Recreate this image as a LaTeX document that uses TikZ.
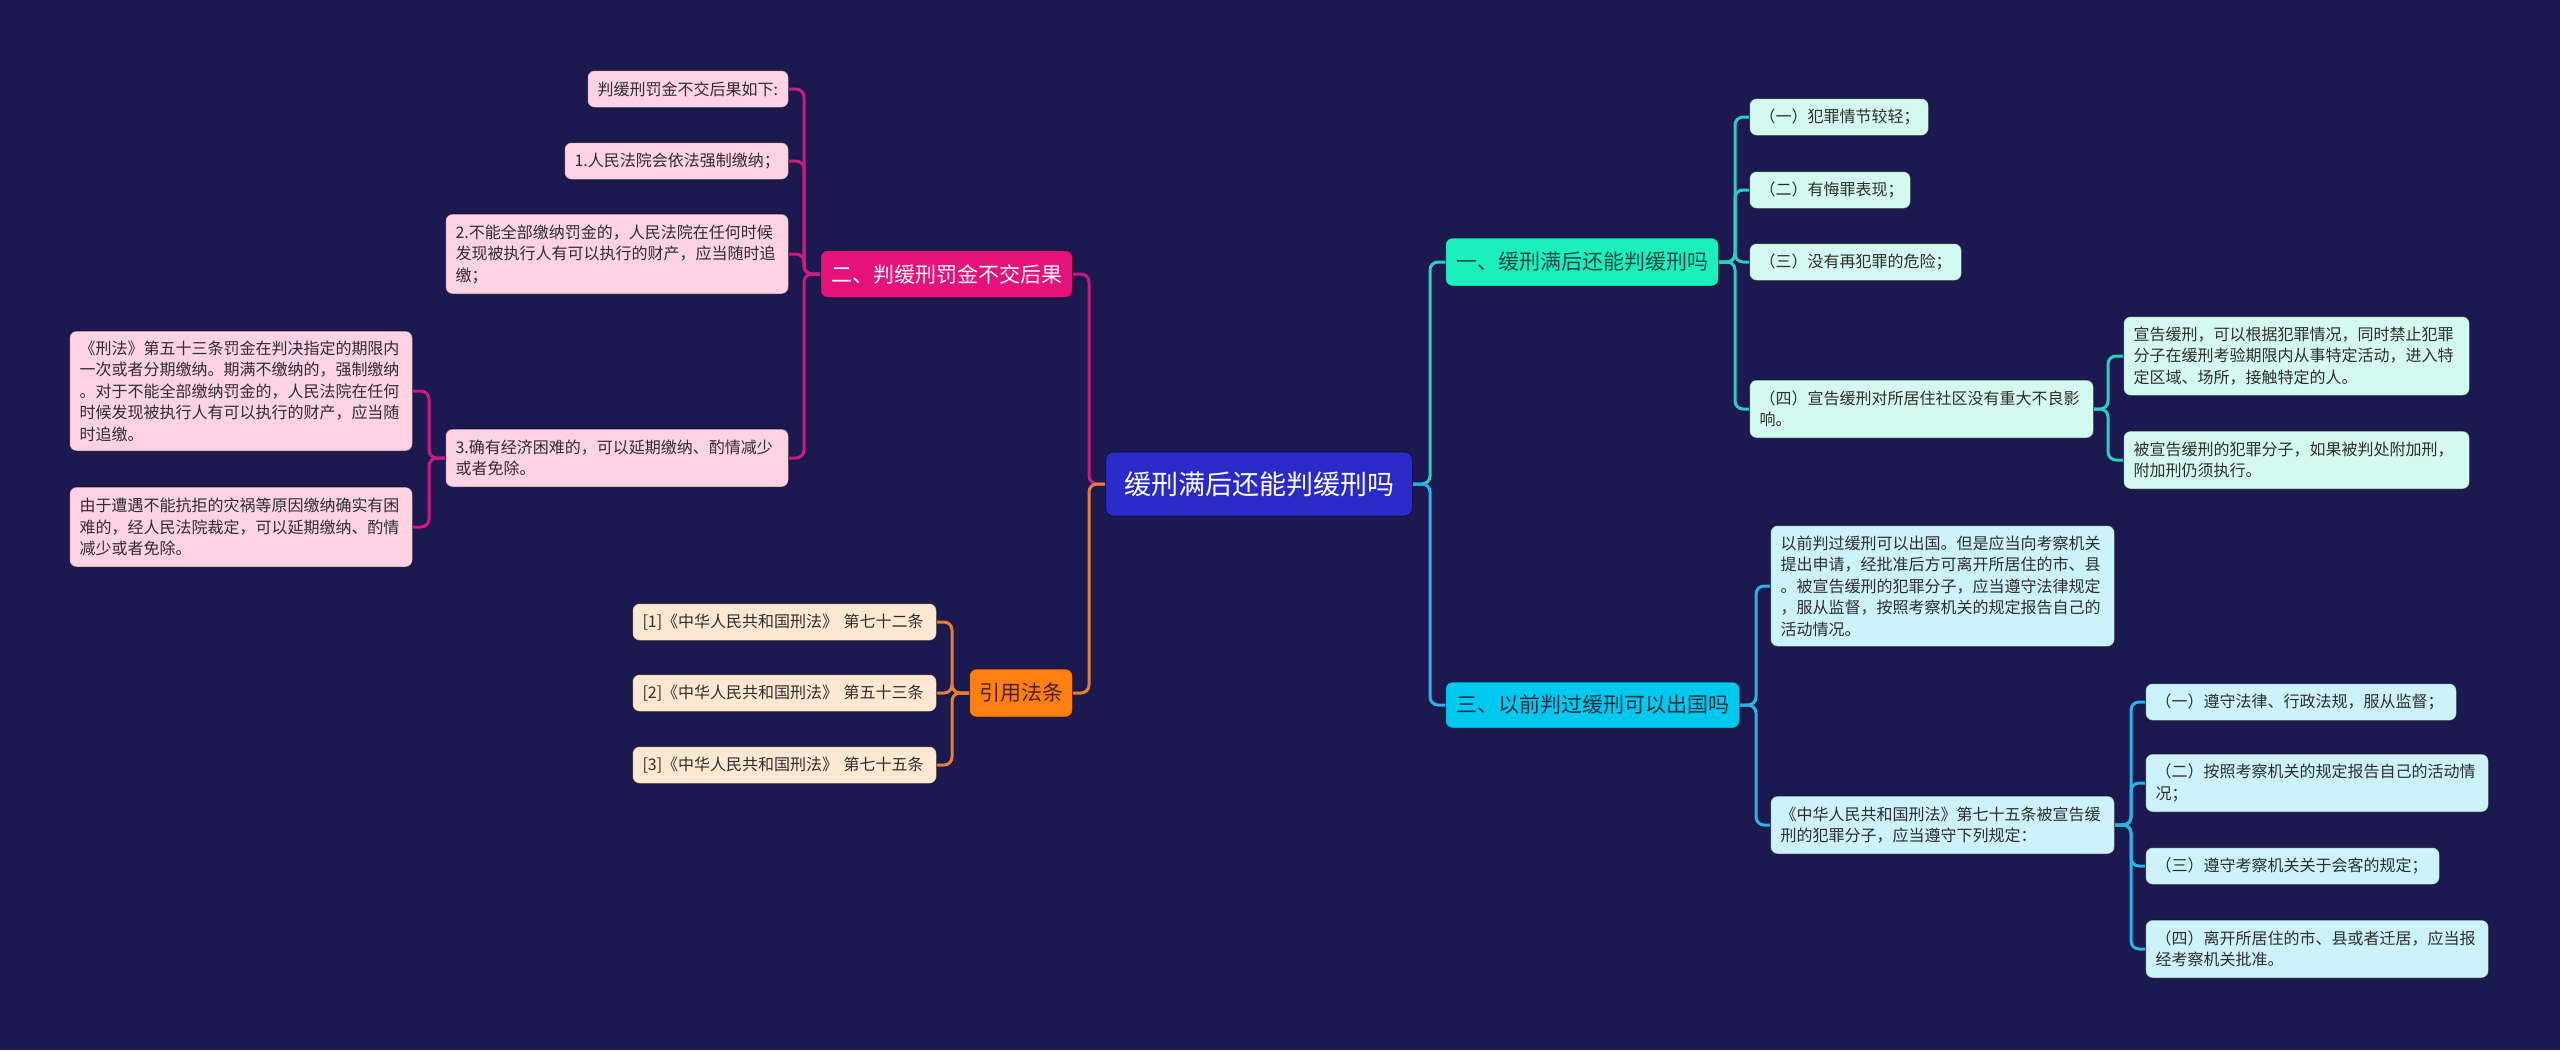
\documentclass[tikz,border=0pt]{standalone}
\usepackage{fontspec}
\newfontfamily\cjk{Noto Sans CJK SC}
\definecolor{bg}{HTML}{1B1950}
\definecolor{rootF}{HTML}{2A2AC8}
\definecolor{tealF}{HTML}{1BEFBE}
\definecolor{tealL}{HTML}{D4FAF0}
\definecolor{tealC}{HTML}{2DCDBF}
\definecolor{tealT}{HTML}{154A42}
\definecolor{cyanF}{HTML}{00C9F0}
\definecolor{cyanL}{HTML}{CCF2FC}
\definecolor{cyanC}{HTML}{27B4E6}
\definecolor{cyanT}{HTML}{0B3040}
\definecolor{pinkF}{HTML}{E6127B}
\definecolor{pinkL}{HTML}{FFD2E5}
\definecolor{pinkC}{HTML}{CF1A7D}
\definecolor{orF}{HTML}{FF7F10}
\definecolor{orL}{HTML}{FFE8D2}
\definecolor{orC}{HTML}{E57F35}
\definecolor{orT}{HTML}{4A2200}
\definecolor{leafT}{HTML}{2E2E2E}
\pgfdeclarelayer{bgl}
\pgfdeclarelayer{back}
\pgfsetlayers{bgl,back,main}
\newcommand\linkR[4]{\draw[#1] (#2.east) -- ++(#4,0) |- (#3.west);}
\newcommand\linkL[4]{\draw[#1] (#2.west) -- ++(-#4,0) |- (#3.east);}
\begin{document}
\begin{tikzpicture}[x=1pt,y=-1pt,
  edge/.style={draw=black, draw opacity=0.45, line width=1pt},
  rootS/.style={edge, fill=rootF, text=white, rounded corners=8pt, inner sep=0pt, font=\cjk\fontsize{27}{32}\selectfont, minimum width=307pt, minimum height=64pt},
  branch/.style={edge, rounded corners=7pt, inner sep=0pt, font=\cjk\fontsize{21}{26}\selectfont},
  leaf/.style={edge, rounded corners=7pt, inner xsep=10pt, inner ysep=0pt, align=left, text=leafT, font=\cjk\fontsize{16}{21.5}\selectfont},
  tl/.style={leaf, fill=tealL},
  cl/.style={leaf, fill=cyanL},
  pl/.style={leaf, fill=pinkL},
  ol/.style={leaf, fill=orL},
  wire/.style={line width=3pt, rounded corners=8pt},
]
\begin{pgfonlayer}{bgl}
\fill[bg] (0,0) rectangle (2560,1050);
\end{pgfonlayer}
\useasboundingbox (0,0) rectangle (2560,1050);

% root
\node[rootS] (root) at (1259,484) {缓刑满后还能判缓刑吗};

% branches
\node[branch, fill=tealF, text=tealT, minimum width=273pt, minimum height=48pt, anchor=west] (b1) at (1445,262) {一、缓刑满后还能判缓刑吗};
\node[branch, fill=cyanF, text=cyanT, minimum width=294pt, minimum height=46pt, anchor=west] (b3) at (1445,705) {三、以前判过缓刑可以出国吗};
\node[branch, fill=pinkF, text=white, minimum width=252pt, minimum height=47pt, anchor=east] (b2) at (1073,274) {二、判缓刑罚金不交后果};
\node[branch, fill=orF, text=orT, minimum width=103pt, minimum height=48pt, anchor=east] (b4) at (1073,693) {引用法条};

% branch 1 leaves
\node[tl, anchor=west, text width=159pt, minimum height=37pt] (c11) at (1749,117) {（一）犯罪情节较轻；};
\node[tl, anchor=west, text width=141pt, minimum height=37pt] (c12) at (1749,190) {（二）有悔罪表现；};
\node[tl, anchor=west, text width=192pt, minimum height=37pt] (c13) at (1749,262) {（三）没有再犯罪的危险；};
\node[tl, anchor=west, text width=324pt, minimum height=58pt] (c14) at (1749,409) {（四）宣告缓刑对所居住社区没有重大不良影\\响。};
\node[tl, anchor=west, text width=326pt, minimum height=79pt] (c141) at (2123,356) {宣告缓刑，可以根据犯罪情况，同时禁止犯罪\\分子在缓刑考验期限内从事特定活动，进入特\\定区域、场所，接触特定的人。};
\node[tl, anchor=west, text width=326pt, minimum height=58pt] (c142) at (2123,460) {被宣告缓刑的犯罪分子，如果被判处附加刑，\\附加刑仍须执行。};

% branch 3 leaves
\node[cl, anchor=west, text width=324pt, minimum height=121pt] (c31) at (1770,586) {以前判过缓刑可以出国。但是应当向考察机关\\提出申请，经批准后方可离开所居住的市、县\\。被宣告缓刑的犯罪分子，应当遵守法律规定\\，服从监督，按照考察机关的规定报告自己的\\活动情况。};
\node[cl, anchor=west, text width=324pt, minimum height=58pt] (c32) at (1770,825) {《中华人民共和国刑法》第七十五条被宣告缓\\刑的犯罪分子，应当遵守下列规定：};
\node[cl, anchor=west, text width=291pt, minimum height=37pt] (c321) at (2145,702) {（一）遵守法律、行政法规，服从监督；};
\node[cl, anchor=west, text width=323pt, minimum height=58pt] (c322) at (2145,783) {（二）按照考察机关的规定报告自己的活动情\\况；};
\node[cl, anchor=west, text width=274pt, minimum height=37pt] (c323) at (2145,866) {（三）遵守考察机关关于会客的规定；};
\node[cl, anchor=west, text width=323pt, minimum height=58pt] (c324) at (2145,949) {（四）离开所居住的市、县或者迁居，应当报\\经考察机关批准。};

% branch 2 leaves
\node[pl, anchor=east, text width=181pt, minimum height=37pt] (c21) at (789,89) {判缓刑罚金不交后果如下:};
\node[pl, anchor=east, text width=204pt, minimum height=37pt] (c22) at (789,161) {1.人民法院会依法强制缴纳；};
\node[pl, anchor=east, text width=323pt, minimum height=80pt] (c23) at (789,254) {2.不能全部缴纳罚金的，人民法院在任何时候\\发现被执行人有可以执行的财产，应当随时追\\缴；};
\node[pl, anchor=east, text width=323pt, minimum height=58pt] (c24) at (789,458) {3.确有经济困难的，可以延期缴纳、酌情减少\\或者免除。};
\node[pl, anchor=east, text width=323pt, minimum height=120pt] (c241) at (413,391) {《刑法》第五十三条罚金在判决指定的期限内\\一次或者分期缴纳。期满不缴纳的，强制缴纳\\。对于不能全部缴纳罚金的，人民法院在任何\\时候发现被执行人有可以执行的财产，应当随\\时追缴。};
\node[pl, anchor=east, text width=323pt, minimum height=80pt] (c242) at (413,527) {由于遭遇不能抗拒的灾祸等原因缴纳确实有困\\难的，经人民法院裁定，可以延期缴纳、酌情\\减少或者免除。};

% branch 4 leaves
\node[ol, anchor=east, text width=284pt, minimum height=37pt] (c41) at (937,622) {[1]《中华人民共和国刑法》~第七十二条};
\node[ol, anchor=east, text width=284pt, minimum height=37pt] (c42) at (937,693) {[2]《中华人民共和国刑法》~第五十三条};
\node[ol, anchor=east, text width=284pt, minimum height=37pt] (c43) at (937,765) {[3]《中华人民共和国刑法》~第七十五条};

\begin{pgfonlayer}{back}
\linkR{wire, tealC}{root}{b1}{17}
\linkR{wire, cyanC}{root}{b3}{17}
\linkL{wire, pinkC}{root}{b2}{16}
\linkL{wire, orC}{root}{b4}{16}
\foreach \c in {c11,c12,c13,c14} {\linkR{wire, tealC}{b1}{\c}{16}}
\foreach \c in {c141,c142} {\linkR{wire, tealC}{c14}{\c}{14}}
\foreach \c in {c31,c32} {\linkR{wire, cyanC}{b3}{\c}{16}}
\foreach \c in {c321,c322,c323,c324} {\linkR{wire, cyanC}{c32}{\c}{16}}
\foreach \c in {c21,c22,c23,c24} {\linkL{wire, pinkC}{b2}{\c}{16}}
\foreach \c in {c241,c242} {\linkL{wire, pinkC}{c24}{\c}{16}}
\foreach \c in {c41,c42,c43} {\linkL{wire, orC}{b4}{\c}{17}}
\end{pgfonlayer}
\end{tikzpicture}
\end{document}
